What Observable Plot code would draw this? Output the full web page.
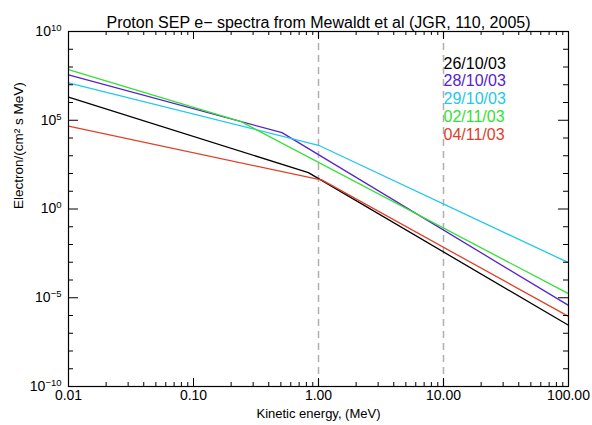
<!DOCTYPE html>
<html>
<head>
<meta charset="utf-8">
<script src="https://cdn.jsdelivr.net/npm/d3@7"></script>
<script src="https://cdn.jsdelivr.net/npm/@observablehq/plot@0.6"></script>
<style>
  html, body { margin: 0; padding: 0; background: #fff; }
  svg { display: block; }
</style>
</head>
<body>
<div id="chart"></div>
<script>
// ---- data ----
const seriesNames = ["26/10/03", "28/10/03", "29/10/03", "02/11/03", "04/11/03"];
const seriesColors = ["#000000", "#5522cc", "#22c8ea", "#33e033", "#e0402a"];

// broken power-law break points: energy (MeV) and flux
const energy_261003 = [0.01, 0.83, 100];
const flux_261003   = [2.0e6, 1.12e2, 2.8e-7];
const energy_281003 = [0.01, 0.51, 100];
const flux_281003   = [3.55e7, 2.0e4, 3.7e-6];
const energy_291003 = [0.01, 1.0, 100];
const flux_291003   = [1.26e7, 3.9e3, 9.5e-4];
const energy_021103 = [0.01, 0.24, 100];
const flux_021103   = [7.1e7, 8.3e4, 1.7e-5];
const energy_041103 = [0.01, 1.07, 100];
const flux_041103   = [4.6e4, 4.2e1, 8.9e-7];

const xMajorTicks = [0.01, 0.1, 1, 10, 100];
const yMajorTicks = [1e-10, 1e-5, 1, 1e5, 1e10];
const yTickExponents = ["\u221210", "\u22125", "0", "5", "10"];
const dashedEnergies = [1, 10];

const titleText = "Proton SEP e\u2212 spectra from Mewaldt et al (JGR, 110, 2005)";
const xLabel = "Kinetic energy, (MeV)";
const yLabel = "Electron/(cm\u00B2 s MeV)";

// ---- build tables ----
const energies = [energy_261003, energy_281003, energy_291003, energy_021103, energy_041103];
const fluxes = [flux_261003, flux_281003, flux_291003, flux_021103, flux_041103];
const rows = [];
seriesNames.forEach((s, i) => energies[i].forEach((e, j) => rows.push({series: s, energy: e, flux: fluxes[i][j]})));

const xMinor = [];
for (let p = -2; p < 2; p++) for (let m = 2; m <= 9; m++) xMinor.push(m * Math.pow(10, p));
const yMinor = [];
for (let p = -10; p <= 10; p++) if (p % 5 !== 0) yMinor.push(Math.pow(10, p));

const W = 592, H = 425, mL = 68, mR = 24, mT = 31, mB = 39;
const iw = W - mL - mR, ih = H - mT - mB;
const majLen = 8, minLen = 4, yMajLen = 10, yMinLen = 5;

const legend = seriesNames.map((s, i) => ({name: s, color: seriesColors[i], y: Math.pow(10, 8.2 - i)}));

const chart = Plot.plot({
  width: W, height: H,
  marginLeft: mL, marginRight: mR, marginTop: mT, marginBottom: mB,
  style: {fontFamily: "'Liberation Sans', Arial, sans-serif", fontSize: "14px", color: "#000", background: "#fff"},
  x: {type: "log", domain: [0.01, 100]},
  y: {type: "log", domain: [1e-10, 1e10]},
  color: {domain: seriesNames, range: seriesColors},
  marks: [
    Plot.ruleX(dashedEnergies, {stroke: "#b0b0b0", strokeWidth: 1.5, strokeDasharray: "7,5"}),
    Plot.line(rows, {x: "energy", y: "flux", z: "series", stroke: "series", strokeWidth: 1.3}),
    // ticks (inward, all four sides)
    Plot.ruleX(xMajorTicks, {insetTop: ih - majLen, stroke: "#000"}),
    Plot.ruleX(xMajorTicks, {insetBottom: ih - majLen, stroke: "#000"}),
    Plot.ruleX(xMinor, {insetTop: ih - minLen, stroke: "#000"}),
    Plot.ruleX(xMinor, {insetBottom: ih - minLen, stroke: "#000"}),
    Plot.ruleY(yMajorTicks, {insetRight: iw - yMajLen, stroke: "#000"}),
    Plot.ruleY(yMajorTicks, {insetLeft: iw - yMajLen, stroke: "#000"}),
    Plot.ruleY(yMinor, {insetRight: iw - yMinLen, stroke: "#000"}),
    Plot.ruleY(yMinor, {insetLeft: iw - yMinLen, stroke: "#000"}),
    Plot.frame({stroke: "#000", strokeWidth: 1.2}),
    Plot.axisX(xMajorTicks, {tickSize: 0, tickPadding: 4, tickFormat: d => d.toFixed(2), label: null, fontSize: 14}),
    Plot.axisY(yMajorTicks, {tickSize: 0, tickPadding: 7, tickFormat: d => "10^" + yTickExponents[yMajorTicks.indexOf(d)], label: null, fontSize: 14, className: "ytk"}),
    Plot.text([titleText], {frameAnchor: "top", dy: -15, fontSize: 16}),
    Plot.text([xLabel], {frameAnchor: "bottom", dy: 31, fontSize: 13}),
    Plot.text([yLabel], {frameAnchor: "left", dx: -50, rotate: -90, fontSize: 13.5}),
    Plot.text(legend, {x: () => 10, y: "y", text: "name", fill: "color", textAnchor: "start", fontSize: 16})
  ]
});
// render exponents as real superscripts
d3.select(chart).selectAll(".ytk text").each(function () {
  const t = this.textContent;
  const k = t.indexOf("^");
  if (k < 0) return;
  const base = t.slice(0, k), exp = t.slice(k + 1);
  const sel = d3.select(this);
  sel.text(null);
  sel.append("tspan").text(base);
  sel.append("tspan").attr("font-size", "9.5px").attr("dy", "-0.55em").text(exp);
});
document.getElementById("chart").appendChild(chart);
</script>
</body>
</html>
